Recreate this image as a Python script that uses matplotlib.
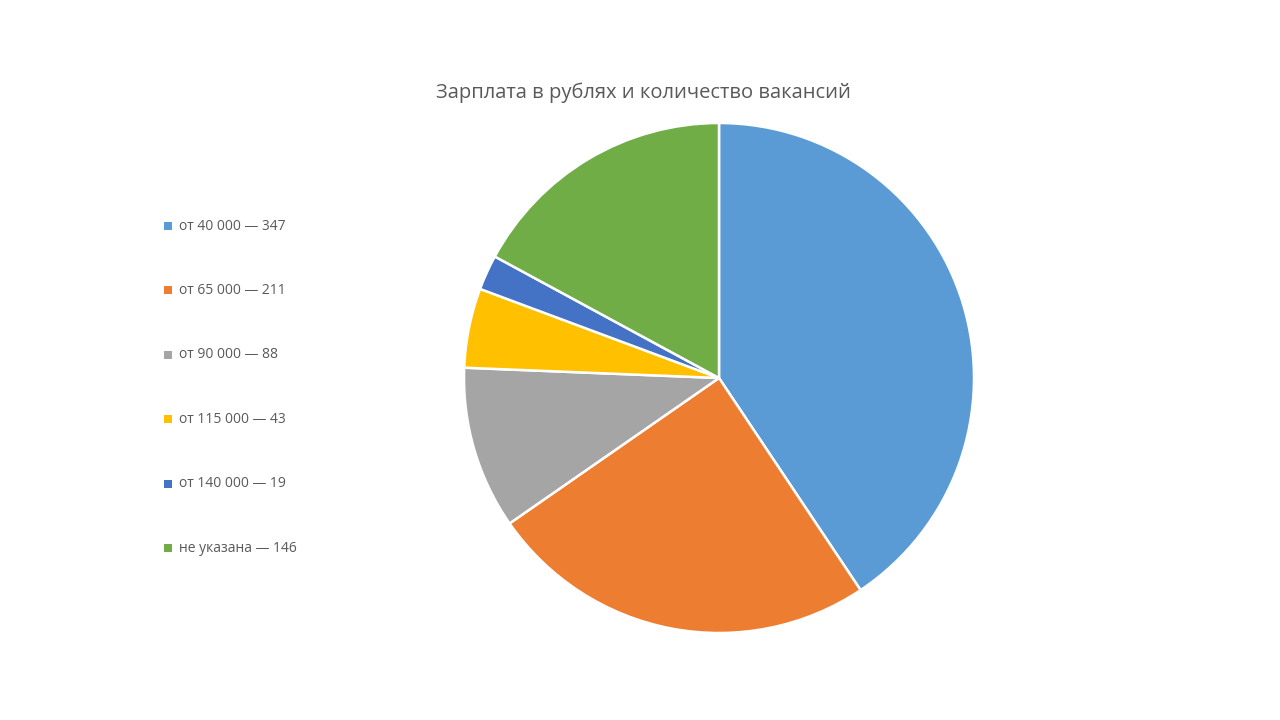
import matplotlib.pyplot as plt
from matplotlib.patches import Rectangle

plt.rcParams['font.family'] = ['Open Sans', 'DejaVu Sans']

# data
labels = ['от 40 000', 'от 65 000', 'от 90 000', 'от 115 000', 'от 140 000', 'не указана']
counts = [347, 211, 88, 43, 19, 146]
colors = ['#5B9BD5', '#ED7D31', '#A5A5A5', '#FFC000', '#4472C4', '#70AD47']
title = 'Зарплата в рублях и количество вакансий'

W, H = 1280, 720
fig = plt.figure(figsize=(12.8, 7.2), dpi=100)

# pie, centre (719, 378), radius 255 px
ax = fig.add_axes([(719 - 255) / W, (H - 378 - 255) / H, 510 / W, 510 / H])
wedges, _ = ax.pie(counts, colors=colors, startangle=90, counterclock=False,
                   radius=1, wedgeprops=dict(edgecolor='white', linewidth=1.8))
ax.set_xlim(-1, 1)
ax.set_ylim(-1, 1)
ax.set_aspect('equal')
ax.axis('off')

fig.text(643 / W, 1 - 93 / H, title, ha='center', va='center',
         fontsize=14.5, color='#595959')

# legend drawn by hand
y0, dy = 226, 64.4
for i, (lab, n, c) in enumerate(zip(labels, counts, colors)):
    y = y0 + i * dy
    fig.patches.append(Rectangle((164 / W, 1 - (y + 4) / H), 8 / W, 8 / H,
                                 transform=fig.transFigure, facecolor=c,
                                 edgecolor='none'))
    fig.text(179 / W, 1 - y / H, f'{lab} — {n}', ha='left', va='center',
             fontsize=10, color='#595959')

fig.savefig('out.png', dpi=100, facecolor='white')
